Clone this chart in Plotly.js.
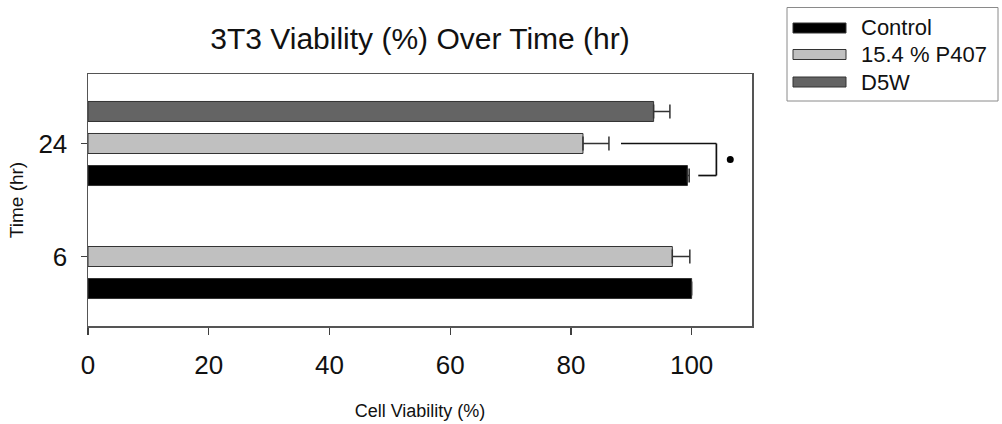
<!DOCTYPE html>
<html>
<head>
<meta charset="utf-8">
<script src="https://cdn.plot.ly/plotly-3.0.1.min.js"></script>
<style>
  html, body { margin: 0; padding: 0; background: #ffffff; }
  #chart { width: 1002px; height: 424px; }
</style>
</head>
<body>
<div id="chart"></div>
<script>
// ---- data ----
var timeCategories = ['6', '24'];
var seriesNames = ['Control', '15.4 % P407', 'D5W'];
var controlValues = [100.0, 99.3];
var controlErrors = [0, 0.3];
var p407Values = [96.8, 82.0];
var p407Errors = [2.9, 4.3];
var d5wValues = [null, 93.7];
var d5wErrors = [0, 2.7];
var xTickValues = [0, 20, 40, 60, 80, 100];

// ---- layout geometry (pixels) ----
var W = 1002, H = 424;
var M = {l: 88, r: 250, t: 74, b: 98};
var plotW = W - M.l - M.r, plotH = H - M.t - M.b;
function px(x) { return (x - M.l) / plotW; }
function py(y) { return (H - M.b - y) / plotH; }

var FONT = 'Liberation Sans, Arial, sans-serif';
var fills = ['#000000', '#c0c0c0', '#646464'];
var outline = '#333333';

function barTrace(name, vals, errs, fill) {
  return {
    type: 'bar', orientation: 'h', name: name,
    y: timeCategories, x: vals,
    marker: {color: fill, line: {color: outline, width: 1}},
    error_x: {type: 'data', symmetric: false, array: errs,
              arrayminus: errs.map(function () { return 0; }),
              color: outline, thickness: 1.5, width: 7},
    showlegend: false, hoverinfo: 'x+name'
  };
}

var traces = [
  barTrace(seriesNames[0], controlValues, controlErrors, fills[0]),
  barTrace(seriesNames[1], p407Values, p407Errors, fills[1]),
  barTrace(seriesNames[2], d5wValues, d5wErrors, fills[2])
];

// significance bracket between P407 (24) and Control (24)
var slot = (1 - 0.15) / 3;
var yP407 = 1, yCtrl = 1 - slot;
var shapes = [
  {type: 'line', xref: 'x', yref: 'y', x0: 88.3, x1: 104.1, y0: yP407, y1: yP407, line: {color: '#111', width: 1.7}},
  {type: 'line', xref: 'x', yref: 'y', x0: 104.1, x1: 104.1, y0: yP407, y1: yCtrl, line: {color: '#111', width: 1.7}},
  {type: 'line', xref: 'x', yref: 'y', x0: 101.1, x1: 104.1, y0: yCtrl, y1: yCtrl, line: {color: '#111', width: 1.7}},
  {type: 'circle', xref: 'x', yref: 'y', xsizemode: 'pixel', ysizemode: 'pixel',
   xanchor: 106.4, yanchor: (yP407 + yCtrl) / 2, x0: -3.5, x1: 3.5, y0: -3.5, y1: 3.5,
   fillcolor: '#000', line: {width: 0}}
];

// manual legend
shapes.push({type: 'rect', xref: 'paper', yref: 'paper',
  x0: px(787), x1: px(998), y0: py(101), y1: py(7.5),
  line: {color: '#8a8a8a', width: 1}, fillcolor: 'rgba(0,0,0,0)'});
var legendY = [28, 54.5, 82];
var annotations = [];
for (var i = 0; i < seriesNames.length; i++) {
  shapes.push({type: 'rect', xref: 'paper', yref: 'paper',
    x0: px(793), x1: px(846), y0: py(legendY[i] + 5), y1: py(legendY[i] - 5),
    fillcolor: fills[i], line: {color: outline, width: 1}});
  annotations.push({xref: 'paper', yref: 'paper', x: px(859), y: py(legendY[i]),
    xanchor: 'left', yanchor: 'middle', showarrow: false, text: seriesNames[i],
    font: {family: FONT, size: 22, color: '#111'}});
}

var layout = {
  width: W, height: H,
  margin: M,
  paper_bgcolor: '#ffffff', plot_bgcolor: '#ffffff',
  font: {family: FONT, color: '#111'},
  title: {text: '3T3 Viability (%) Over Time (hr)', font: {family: FONT, size: 30, color: '#111'},
          xref: 'paper', x: 0.5, xanchor: 'center', yref: 'container', y: 1 - 38 / H, yanchor: 'middle'},
  barmode: 'group', bargap: 0.15, bargroupgap: 0.375,
  xaxis: {
    range: [0, 110], tickvals: xTickValues, ticktext: xTickValues.map(String),
    ticks: 'outside', ticklen: 7, tickwidth: 1.2, tickcolor: '#404040',
    showline: true, linecolor: '#555', linewidth: 1.5, mirror: true,
    showgrid: false, zeroline: false,
    tickfont: {family: FONT, size: 26, color: '#111'},
    ticklabelstandoff: 8,
    title: {text: 'Cell Viability (%)', font: {family: FONT, size: 18, color: '#111'}, standoff: 25}
  },
  yaxis: {
    type: 'category', categoryorder: 'array', categoryarray: timeCategories,
    range: [-0.615, 1.615],
    ticks: 'outside', ticklen: 6, tickwidth: 1.2, tickcolor: '#404040',
    showline: true, linecolor: '#555', linewidth: 1.5, mirror: true,
    showgrid: false, zeroline: false,
    tickfont: {family: FONT, size: 26, color: '#111'},
    ticklabelstandoff: 8,
    title: {text: 'Time (hr)', font: {family: FONT, size: 19, color: '#111'}, standoff: 9}
  },
  shapes: shapes,
  annotations: annotations,
  showlegend: false
};

Plotly.newPlot('chart', traces, layout, {displayModeBar: false, staticPlot: true});
</script>
</body>
</html>
